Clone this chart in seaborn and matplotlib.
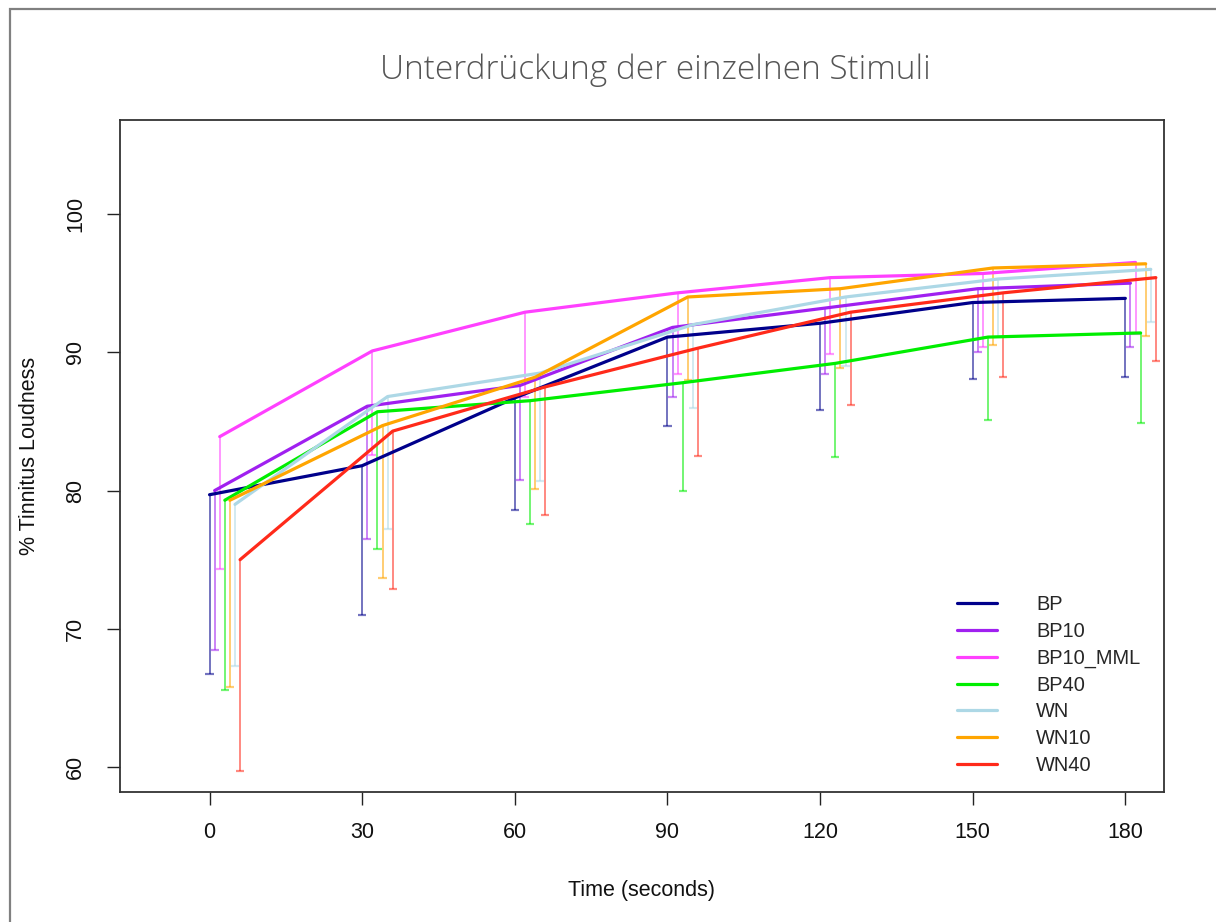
import matplotlib
matplotlib.use("Agg")
import matplotlib.pyplot as plt
from matplotlib.patches import Rectangle
import seaborn as sns
import pandas as pd
import numpy as np

# ---------------- data ----------------
times = [0, 30, 60, 90, 120, 150, 180]
series = ["BP", "BP10", "BP10_MML", "BP40", "WN", "WN10", "WN40"]

bp_mean       = [79.7, 81.8, 86.7, 91.1, 92.1, 93.6, 93.9]
bp_low        = [66.7, 71.0, 78.6, 84.7, 85.8, 88.1, 88.2]
bp10_mean     = [80.0, 86.1, 87.6, 91.8, 93.2, 94.6, 95.0]
bp10_low      = [68.5, 76.5, 80.8, 86.8, 88.4, 90.0, 90.4]
bp10mml_mean  = [83.9, 90.1, 92.9, 94.3, 95.4, 95.7, 96.5]
bp10mml_low   = [74.3, 82.6, 86.8, 88.4, 89.9, 90.4, 91.3]
bp40_mean     = [79.3, 85.7, 86.5, 87.8, 89.2, 91.1, 91.4]
bp40_low      = [65.6, 75.8, 77.6, 80.0, 82.4, 85.1, 84.9]
wn_mean       = [79.0, 86.8, 88.5, 92.0, 94.0, 95.3, 96.0]
wn_low        = [67.3, 77.2, 80.7, 86.0, 89.0, 91.1, 92.2]
wn10_mean     = [79.3, 84.7, 88.2, 94.0, 94.6, 96.1, 96.4]
wn10_low      = [65.8, 73.7, 80.1, 88.0, 88.9, 90.5, 91.2]
wn40_mean     = [75.0, 84.3, 87.5, 90.3, 92.9, 94.3, 95.4]
wn40_low      = [59.7, 72.9, 78.2, 82.5, 86.2, 88.2, 89.4]

means = [bp_mean, bp10_mean, bp10mml_mean, bp40_mean, wn_mean, wn10_mean, wn40_mean]
lows = [bp_low, bp10_low, bp10mml_low, bp40_low, wn_low, wn10_low, wn40_low]

# horizontal dodge of each series (seconds)
dodge = [0, 1, 2, 3, 5, 4, 6]

colors = ["#00008B", "#A020F0", "#FF40FF", "#00EE00", "#ADD8E6", "#FFA500", "#FF2A1A"]

title = "Unterdrückung der einzelnen Stimuli"
xlabel = "Time (seconds)"
ylabel = "% Tinnitus Loudness"
xticks = [0, 30, 60, 90, 120, 150, 180]
yticks = [60, 70, 80, 90, 100]

# ---------------- long-form table ----------------
rows = []
for s, m, lo, d in zip(series, means, lows, dodge):
    for t, mv, lv in zip(times, m, lo):
        rows.append({"series": s, "time": t + d, "mean": mv, "low": lv})
df = pd.DataFrame(rows)

# ---------------- style ----------------
sns.set_theme(style="white")
plt.rcParams["font.family"] = ["Liberation Sans", "DejaVu Sans"]

fig = plt.figure(figsize=(12.16, 9.22), dpi=100)
ax = fig.add_axes([120 / 1216, 1 - 792 / 922, (1164 - 120) / 1216, (792 - 120) / 922])

palette = dict(zip(series, colors))

# error bars (lower only) drawn first
for s, c in zip(series, colors):
    sub = df[df["series"] == s]
    ax.vlines(sub["time"], sub["low"], sub["mean"], colors=c, alpha=0.55, linewidth=1.4, zorder=2)
    ax.hlines(sub["low"], sub["time"] - 0.8, sub["time"] + 0.8, colors=c, alpha=0.55, linewidth=1.6, zorder=2)

sns.lineplot(data=df, x="time", y="mean", hue="series", hue_order=series, palette=palette,
             linewidth=2.3, ax=ax, legend=True, zorder=3, estimator=None, sort=True)

ax.set_xlim(-17.6, 187.6)
ax.set_ylim(58.2, 106.8)
ax.set_xticks(xticks)
ax.set_xticklabels([str(v) for v in xticks])
ax.set_yticks(yticks)
ax.set_yticklabels([str(v) for v in yticks], rotation=90, va="center")

ax.tick_params(axis="both", which="both", direction="out", length=9.5, width=1.0,
               color="#222222", labelsize=15.5, labelcolor="#111111")
ax.tick_params(axis="x", pad=12)
ax.tick_params(axis="y", pad=15)
ax.tick_params(bottom=True, left=True)

for sp in ax.spines.values():
    sp.set_color("#333333")
    sp.set_linewidth(1.3)

ax.set_xlabel(xlabel, fontsize=15.5, color="#111111", labelpad=27)
ax.set_ylabel(ylabel, fontsize=15.5, color="#111111", labelpad=18)

# legend
handles, labels = ax.get_legend_handles_labels()
leg = ax.legend(handles, labels, loc="upper left", bbox_to_anchor=((957 - 120) / 1044, (792 - 595) / 672),
                frameon=False, fontsize=14.4, handlelength=2.0, handletextpad=1.95,
                labelspacing=0.39, borderpad=0, borderaxespad=0)
for ln in leg.get_lines():
    ln.set_linewidth(2.3)

# title
fig.text(655 / 1216, 1 - 70 / 922, title, ha="center", va="center",
         fontsize=24, color="#555555", family=["Open Sans", "DejaVu Sans"], fontweight="light")

# outer gray frame
fig.patches.append(Rectangle((10 / 1216, -0.05), 1.2, 1.05 - 9 / 922, transform=fig.transFigure,
                             fill=False, edgecolor="#808080", linewidth=1.6, zorder=0))

fig.savefig("out.png", dpi=100)
